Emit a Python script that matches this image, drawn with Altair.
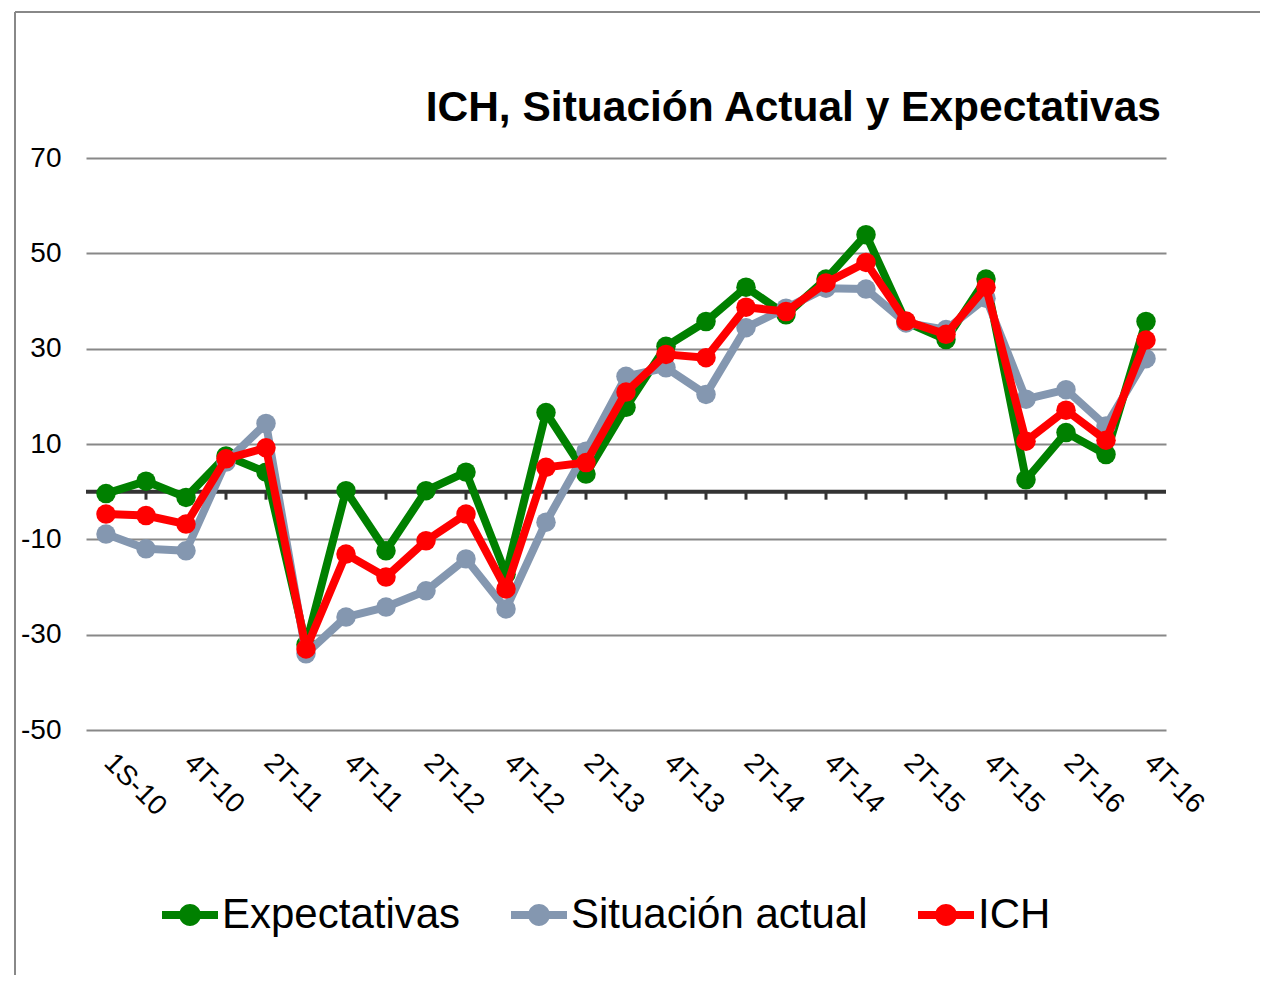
import altair as alt
import pandas as pd

periodos = ["1S-10", "3T-10", "4T-10", "1T-11", "2T-11", "3T-11", "4T-11",
            "1T-12", "2T-12", "3T-12", "4T-12", "1T-13", "2T-13", "3T-13",
            "4T-13", "1T-14", "2T-14", "3T-14", "4T-14", "1T-15", "2T-15",
            "3T-15", "4T-15", "1T-16", "2T-16", "3T-16", "4T-16"]
etiquetas = periodos[0:1] + periodos[2::2]

expectativas = [-0.4, 2.2, -1.2, 7.5, 4.1, -32.1, 0.2, -12.4, 0.2, 4.1, -17.3,
                16.6, 3.7, 17.7, 30.5, 35.7, 42.9, 37.1, 44.6, 53.9, 35.6, 31.9,
                44.6, 2.5, 12.4, 7.8, 35.7]
situacion = [-8.9, -12.0, -12.4, 6.2, 14.3, -34.0, -26.3, -24.2, -20.8, -14.1,
             -24.6, -6.4, 8.5, 24.2, 26.0, 20.4, 34.4, 38.5, 42.7, 42.5, 35.4,
             34.0, 40.6, 19.4, 21.4, 13.8, 27.9]
ich = [-4.7, -5.0, -6.8, 6.9, 9.2, -33.0, -13.1, -17.9, -10.3, -4.7, -20.4,
       5.1, 6.1, 20.9, 28.8, 28.1, 38.7, 37.8, 43.8, 48.1, 35.8, 33.0, 42.9,
       10.6, 17.1, 10.8, 31.8]

series = ["Expectativas", "Situación actual", "ICH"]
colores = ["#008000", "#8497B0", "#FF0000"]
y_ticks = [-50, -30, -10, 10, 30, 50, 70]
titulo = "ICH, Situación Actual y Expectativas"

rows = []
for name, vals in zip(series, [expectativas, situacion, ich]):
    for p, v in zip(periodos, vals):
        rows.append({"periodo": p, "valor": v, "serie": name})
df = pd.DataFrame(rows)

FONT = "Liberation Sans"

x_scale = alt.Scale(type="point", padding=0.5)
y_scale = alt.Scale(domain=[-50, 70], nice=False, zero=False)

x_enc = alt.X("periodo:N", sort=periodos, scale=x_scale,
              axis=alt.Axis(values=etiquetas, labelAngle=45, labelAlign="left",
                            labelBaseline="middle", labelFont=FONT,
                            labelFontSize=28, labelColor="black",
                            labelPadding=28, labelOffset=2, domain=False,
                            ticks=False, grid=False, title=None,
                            labelOverlap=False))
y_enc = alt.Y("valor:Q", scale=y_scale,
              axis=alt.Axis(values=y_ticks, labelFont=FONT, labelFontSize=28,
                            labelColor="black", labelPadding=25, domain=False,
                            ticks=False, grid=True, gridColor="#888888",
                            gridWidth=2, title=None,
                            labelExpr="toString(datum.value)"))

symbol_path = ("M-1,-0.143L-0.363,-0.143A0.39,0.39 0 0 1 0.363,-0.143L1,-0.143"
               "L1,0.143L0.363,0.143A0.39,0.39 0 0 1 -0.363,0.143L-1,0.143Z")

color_scale = alt.Scale(domain=series, range=colores)
legend = alt.Legend(orient="none", legendX=76, legendY=729,
                    direction="horizontal", title=None,
                    symbolType=symbol_path, symbolSize=3136,
                    symbolStrokeWidth=0, symbolOpacity=1,
                    labelFont=FONT, labelFontSize=42,
                    labelColor="black", labelLimit=600, labelOffset=4,
                    columnPadding=50, values=series)

base = alt.Chart(df)
layers = []

zero_df = pd.DataFrame({"valor": [0]})
tick_df = pd.DataFrame({"periodo": periodos[1:], "valor": [0] * (len(periodos) - 1)})

zero_line = alt.Chart(zero_df).mark_rule(color="#333333", strokeWidth=4).encode(
    y=alt.Y("valor:Q", scale=y_scale))
zero_ticks = alt.Chart(tick_df).mark_point(
    shape="M0,0L0,1", size=256, filled=False, stroke="#333333",
    strokeWidth=3, opacity=1).encode(x=x_enc, y=alt.Y("valor:Q", scale=y_scale))
layers += [zero_line, zero_ticks]

for name in series:
    sub = base.transform_filter(alt.datum.serie == name)
    line = sub.mark_line(strokeWidth=8, strokeJoin="round").encode(
        x=x_enc, y=y_enc,
        color=alt.Color("serie:N", scale=color_scale, legend=legend))
    pts = sub.mark_point(filled=True, size=380, opacity=1).encode(
        x=x_enc, y=y_enc,
        color=alt.Color("serie:N", scale=color_scale, legend=legend))
    layers += [line, pts]

frame_df = pd.DataFrame({"t": [titulo]})
frame_left = alt.Chart(frame_df).mark_rule(color="#888888", strokeWidth=2).encode(
    x=alt.value(-71), y=alt.value(-146), y2=alt.value(900))
frame_top = alt.Chart(frame_df).mark_rule(color="#888888", strokeWidth=2).encode(
    x=alt.value(-71), x2=alt.value(1180), y=alt.value(-146))
title_text = alt.Chart(frame_df).mark_text(
    align="right", baseline="alphabetic", font=FONT, fontSize=42.5,
    fontWeight="bold", color="black").encode(
    text="t:N", x=alt.value(1075), y=alt.value(-37))
layers += [frame_left, frame_top, title_text]

chart = alt.layer(*layers).properties(
    width=1080, height=572,
    background="white",
    autosize=alt.AutoSizeParams(type="none"),
    padding={"left": 78, "top": 150, "right": 94, "bottom": 245},
).configure_view(stroke=None)

chart.save("out.html", embed_options={"renderer": "svg", "actions": False})
